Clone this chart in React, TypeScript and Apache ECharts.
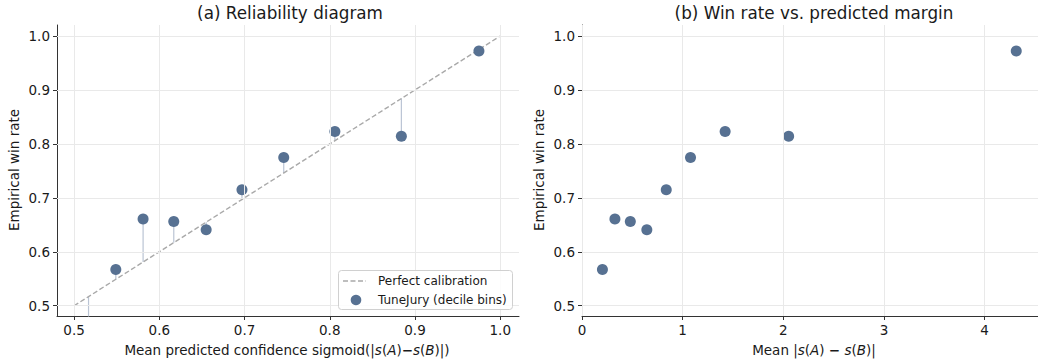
import { useEffect, useRef } from "react";
import * as echarts from "echarts";

// Decile bins (the lowest bin falls below the visible y-range and is clipped)
const confidence = [0.517, 0.549, 0.581, 0.617, 0.655, 0.697, 0.746, 0.806, 0.884, 0.975];
const winRate = [0.47, 0.567, 0.661, 0.656, 0.641, 0.715, 0.775, 0.823, 0.814, 0.972];
const meanMargin = [0.07, 0.203, 0.327, 0.48, 0.644, 0.837, 1.078, 1.422, 2.053, 4.314];
const diagonal = [0.5, 1.0];
const xTicksA = [0.5, 0.6, 0.7, 0.8, 0.9, 1.0];
const xTicksB = [0, 1, 2, 3, 4];
const yTicks = [0.5, 0.6, 0.7, 0.8, 0.9, 1.0];

const FONT = "DejaVu Sans";
const POINT = "#577192";
const GRID = "#e9e9e9";
const SPINE = "#333333";
const TEXT = "#1a1a1a";
const TICK_FS = 13.5;
const LABEL_FS = 13.5;
const TITLE_FS = 16.8;

function axisCommon(ticks: number[], fmt: (v: number) => string) {
  return {
    type: "value" as const,
    axisLine: { show: true, onZero: false, lineStyle: { color: SPINE, width: 1 } },
    axisTick: { show: true, customValues: ticks, length: 4, lineStyle: { color: SPINE, width: 1 } },
    axisLabel: {
      show: true,
      customValues: ticks,
      formatter: (v: number) => fmt(v),
      color: TEXT,
      fontSize: TICK_FS,
      fontFamily: FONT,
      margin: 7,
      showMinLabel: true,
      showMaxLabel: true,
    },
    splitLine: { show: false },
  };
}

function gridLines(xi: number, xTicks: number[]) {
  return {
    type: "scatter",
    xAxisIndex: xi,
    yAxisIndex: xi,
    data: [],
    symbolSize: 0,
    silent: true,
    z: 0,
    markLine: {
      silent: true,
      symbol: ["none", "none"],
      label: { show: false },
      lineStyle: { color: GRID, width: 1, type: "solid" },
      emphasis: { disabled: true },
      data: [
        ...xTicks.map((v) => ({ xAxis: v })),
        ...yTicks.map((v) => ({ yAxis: v })),
      ],
    },
  };
}

export default function App() {
  const ref = useRef<HTMLDivElement>(null);
  useEffect(() => {
    document.body.style.margin = "0";
    const chart = echarts.init(ref.current!, null, { renderer: "svg" });
    const f1 = (v: number) => v.toFixed(1);
    const f0 = (v: number) => String(Math.round(v));
    const rich = {
      n: { fontSize: LABEL_FS, fontFamily: FONT, color: TEXT },
      i: { fontSize: LABEL_FS, fontFamily: FONT, fontStyle: "italic", color: TEXT },
      m: { fontSize: LABEL_FS, fontFamily: FONT, fontWeight: "bold", color: TEXT },
    };
    const residuals = confidence.map((c, i) => ({
      type: "line",
      xAxisIndex: 0,
      yAxisIndex: 0,
      data: [
        [c, winRate[i]],
        [c, c],
      ],
      symbol: "none",
      silent: true,
      clip: true,
      lineStyle: { color: "#bac4d4", width: 1.2 },
      z: 2,
    }));
    const textStyle = (text: string, fs: number) => ({
      text,
      fontSize: fs,
      fontFamily: FONT,
      fill: TEXT,
      textAlign: "center",
      textVerticalAlign: "middle",
    });
    chart.setOption({
      animation: false,
      grid: [
        { left: 57, top: 25, width: 462, height: 291, containLabel: false },
        { left: 582, top: 25, width: 463, height: 291, containLabel: false },
      ],
      xAxis: [
        { gridIndex: 0, min: 0.48, max: 1.022, ...axisCommon(xTicksA, f1) },
        { gridIndex: 1, min: 0, max: 4.53, ...axisCommon(xTicksB, f0) },
      ],
      yAxis: [
        { gridIndex: 0, min: 0.481, max: 1.0204, ...axisCommon(yTicks, f1) },
        { gridIndex: 1, min: 0.481, max: 1.0204, ...axisCommon(yTicks, f1) },
      ],
      series: [
        gridLines(0, xTicksA),
        gridLines(1, xTicksB),
        ...residuals,
        {
          type: "line",
          name: "Perfect calibration",
          xAxisIndex: 0,
          yAxisIndex: 0,
          data: diagonal.map((v) => [v, v]),
          symbol: "none",
          silent: true,
          lineStyle: { color: "#a9a9a9", width: 1.4, type: [5, 2.5] },
          z: 3,
        },
        {
          type: "scatter",
          name: "TuneJury (decile bins)",
          xAxisIndex: 0,
          yAxisIndex: 0,
          data: confidence.map((c, i) => [c, winRate[i]]),
          symbolSize: 11,
          clip: true,
          itemStyle: { color: POINT, opacity: 1 },
          z: 4,
        },
        {
          type: "scatter",
          xAxisIndex: 1,
          yAxisIndex: 1,
          data: meanMargin.map((m, i) => [m, winRate[i]]),
          symbolSize: 11,
          clip: true,
          itemStyle: { color: POINT, opacity: 1 },
          z: 4,
        },
      ],
      graphic: [
        { type: "text", x: 290, y: 13, z: 100, style: textStyle("(a) Reliability diagram", TITLE_FS) },
        { type: "text", x: 814, y: 13, z: 100, style: textStyle("(b) Win rate vs. predicted margin", TITLE_FS) },
        {
          type: "text",
          x: 14,
          y: 170,
          rotation: Math.PI / 2,
          z: 100,
          style: textStyle("Empirical win rate", LABEL_FS),
        },
        {
          type: "text",
          x: 539,
          y: 170,
          rotation: Math.PI / 2,
          z: 100,
          style: textStyle("Empirical win rate", LABEL_FS),
        },
        {
          type: "text",
          x: 287,
          y: 350,
          z: 100,
          style: {
            ...textStyle(
              "{n|Mean predicted confidence sigmoid(|}{i|s}{n|(}{i|A}{n|)}{m|−}{i|s}{n|(}{i|B}{n|)|)}",
              LABEL_FS
            ),
            rich,
          },
        },
        {
          type: "text",
          x: 814,
          y: 350,
          z: 100,
          style: {
            ...textStyle("{n|Mean |}{i|s}{n|(}{i|A}{n|) }{m|−}{n| }{i|s}{n|(}{i|B}{n|)|}", LABEL_FS),
            rich,
          },
        },
        {
          type: "rect",
          z: 100,
          shape: { x: 338.5, y: 270.5, width: 174, height: 39, r: 3 },
          style: { fill: "rgba(255,255,255,0.85)", stroke: "#d0d0d0", lineWidth: 1 },
        },
        {
          type: "line",
          z: 101,
          shape: { x1: 343, y1: 281, x2: 366, y2: 281 },
          style: { stroke: "#a9a9a9", lineWidth: 1.4, lineDash: [5, 2.5] },
        },
        {
          type: "circle",
          z: 101,
          shape: { cx: 356, cy: 300, r: 5.3 },
          style: { fill: POINT },
        },
        {
          type: "text",
          x: 378,
          y: 281,
          z: 101,
          style: {
            text: "Perfect calibration",
            fontSize: 12,
            fontFamily: FONT,
            fill: TEXT,
            textVerticalAlign: "middle",
          },
        },
        {
          type: "text",
          x: 378,
          y: 300,
          z: 101,
          style: {
            text: "TuneJury (decile bins)",
            fontSize: 12,
            fontFamily: FONT,
            fill: TEXT,
            textVerticalAlign: "middle",
          },
        },
      ],
    });
    return () => chart.dispose();
  }, []);
  return <div ref={ref} style={{ width: 1038, height: 360 }} />;
}
